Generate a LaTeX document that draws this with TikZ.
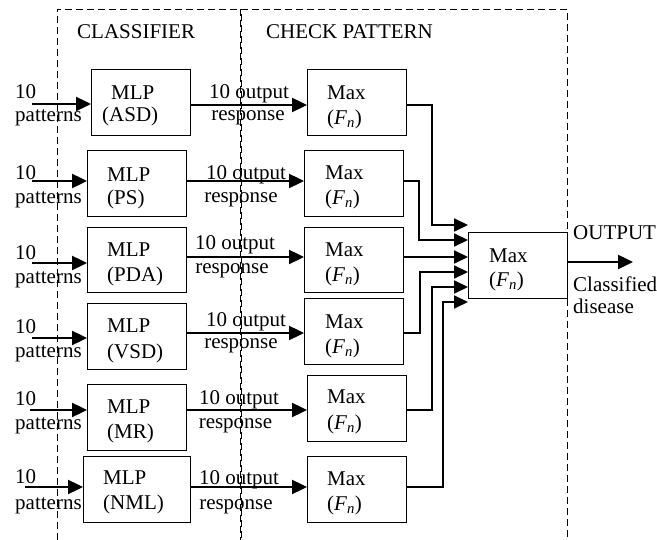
\documentclass[tikz,border=0pt]{standalone}
\usepackage{fontspec}
\setmainfont{Liberation Serif}
\usetikzlibrary{arrows.meta}
\newcommand{\Fn}{(\textit{F\textsubscript{n}})}
\begin{document}
\begin{tikzpicture}[x=1pt,y=-1pt,
  every node/.style={font=\fontsize{21}{24}\selectfont, inner sep=0pt},
  blk/.style={draw, line width=0.9pt, minimum width=99pt, minimum height=66pt, anchor=north west},
  lbl/.style={anchor=base west},
  clbl/.style={anchor=base},
  frame/.style={line width=0.9pt, dash pattern=on 7pt off 4pt},
  arr/.style={line width=2.4pt, -{Triangle[length=15pt,width=14pt]}},
  conn/.style={line width=1.8pt, -{Triangle[length=14pt,width=13pt]}}]
\useasboundingbox (0,0) rectangle (657,540);

% dashed frames of the two stages
\draw[frame] (57,540) -- (57,9) -- (567,9) -- (567,540);
\draw[frame] (240.5,9) -- (240.5,540);
\draw[frame, dash phase=5.5pt] (241.5,9) -- (241.5,540);
\node[lbl] (tcls) at (77,39) {CLASSIFIER};
\node[lbl] (tchk) at (266,39) {CHECK PATTERN};

% classifier boxes
\node[blk] (m1) at (91,69) {};
\node[blk] (m2) at (87,150) {};
\node[blk, minimum height=65pt] (m3) at (87,227) {};
\node[blk] (m4) at (87,303) {};
\node[blk] (m5) at (87,384) {};
\node[blk, minimum width=107pt] (m6) at (83,456) {};

% max boxes
\node[blk] (x1) at (307,69) {};
\node[blk] (x2) at (304,150) {};
\node[blk, minimum height=65pt] (x3) at (304,227) {};
\node[blk] (x4) at (304,298) {};
\node[blk] (x5) at (307,375) {};
\node[blk] (x6) at (307,456) {};
\node[blk] (fin) at (468,232) {};

% box texts
\node[lbl] (m1a) at (111,99.5) {MLP};   \node[lbl] (m1b) at (102,121.5) {(ASD)};
\node[lbl] (m2a) at (107,181.5) {MLP};  \node[lbl] (m2b) at (107,204.5) {(PS)};
\node[lbl] (m3a) at (107,256.5) {MLP};  \node[lbl] (m3b) at (107,281.5) {(PDA)};
\node[lbl] (m4a) at (107,332.5) {MLP};  \node[lbl] (m4b) at (107,358.5) {(VSD)};
\node[lbl] (m5a) at (107,413.5) {MLP};  \node[lbl] (m5b) at (107,438.5) {(MR)};
\node[lbl] (m6a) at (103,484.5) {MLP};  \node[lbl] (m6b) at (103,509.5) {(NML)};

\node[lbl] (x1a) at (327,99.5) {Max};   \node[lbl] (x1b) at (327,124.5) {\Fn};
\node[lbl] (x2a) at (325,179.5) {Max};  \node[lbl] (x2b) at (325,204.5) {\Fn};
\node[lbl] (x3a) at (325,256.5) {Max};  \node[lbl] (x3b) at (325,281.5) {\Fn};
\node[lbl] (x4a) at (325,328.5) {Max};  \node[lbl] (x4b) at (325,353.5) {\Fn};
\node[lbl] (x5a) at (327,403.5) {Max};  \node[lbl] (x5b) at (327,429.5) {\Fn};
\node[lbl] (x6a) at (327,485.5) {Max};  \node[lbl] (x6b) at (327,510.5) {\Fn};
\node[lbl] (fa) at (489,262.5) {Max};   \node[lbl] (fb) at (489,286.5) {\Fn};

% input labels
\node[lbl] (i1a) at (15,98.5) {10};  \node[lbl] (i1b) at (15,122) {patterns};
\node[lbl] (i2a) at (15,179.5) {10}; \node[lbl] (i2b) at (15,204) {patterns};
\node[lbl] (i3a) at (15,259.5) {10}; \node[lbl] (i3b) at (15,284) {patterns};
\node[lbl] (i4a) at (15,333.5) {10}; \node[lbl] (i4b) at (15,358) {patterns};
\node[lbl] (i5a) at (15,405.5) {10}; \node[lbl] (i5b) at (15,430) {patterns};
\node[lbl] (i6a) at (15,483.5) {10}; \node[lbl] (i6b) at (15,509) {patterns};

% output response labels
\node[clbl] (o1a) at (249,98.5) {10 output};  \node[clbl] (o1b) at (248,121) {response};
\node[clbl] (o2a) at (246,179.5) {10 output}; \node[clbl] (o2b) at (241,203) {response};
\node[clbl] (o3a) at (235,249.5) {10 output}; \node[clbl] (o3b) at (232,274) {response};
\node[clbl] (o4a) at (246,326.5) {10 output}; \node[clbl] (o4b) at (241,349) {response};
\node[clbl] (o5a) at (239,404.5) {10 output}; \node[clbl] (o5b) at (235.5,429) {response};
\node[clbl] (o6a) at (239,484.5) {10 output}; \node[clbl] (o6b) at (236,509) {response};

% final output labels
\node[lbl] (t1) at (573,239.5) {OUTPUT};
\node[lbl] (t2) at (573,291.5) {Classified};
\node[lbl] (t3) at (573,313.5) {disease};

% free ends of the input arrows
\coordinate (s1) at (32,104);
\coordinate (s2) at (32,181);
\coordinate (s3) at (32,263);
\coordinate (s4) at (32,338);
\coordinate (s5) at (30,410);
\coordinate (s6) at (25,487);
\coordinate (e0) at (633,262);

% input arrows
\draw[arr] (s1) -- (m1.west |- s1);
\draw[arr] (s2) -- (m2.west |- s2);
\draw[arr] (s3) -- (m3.west |- s3);
\draw[arr] (s4) -- (m4.west |- s4);
\draw[arr] (s5) -- (m5.west |- s5);
\draw[arr] (s6) -- (m6.west |- s6);

% classifier to max arrows
\draw[arr] (m1.east |- 0,105) -- (x1.west |- 0,105);
\draw[arr] (m2.east |- 0,181) -- (x2.west |- 0,181);
\draw[arr] (m3.east |- 0,257) -- (x3.west |- 0,257);
\draw[arr] (m4.east |- 0,333) -- (x4.west |- 0,333);
\draw[arr] (m5.east |- 0,410) -- (x5.west |- 0,410);
\draw[arr] (m6.east |- 0,487) -- (x6.west |- 0,487);

% max to final max connectors
\draw[conn] (x1.east |- 0,105) -| (432,225) -- (fin.west |- 0,225);
\draw[conn] (x2.east |- 0,181) -| (419,240) -- (fin.west |- 0,240);
\draw[conn] (x3.east |- 0,257) -- (fin.west |- 0,257);
\draw[conn] (x4.east |- 0,333) -| (420,272) -- (fin.west |- 0,272);
\draw[conn] (x5.east |- 0,410) -| (432,287) -- (fin.west |- 0,287);
\draw[conn] (x6.east |- 0,487) -| (443,302) -- (fin.west |- 0,302);

% final output arrow
\draw[arr] (fin.east |- 0,262) -- (e0);
\end{tikzpicture}
\end{document}
